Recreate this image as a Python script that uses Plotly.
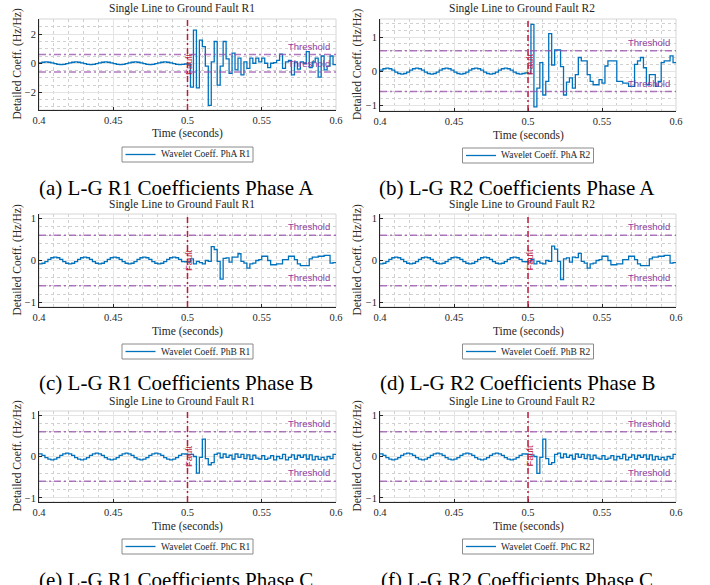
import plotly.graph_objects as go

# ---------------- data ----------------
time_s = [round(0.4 + 0.002 * i, 3) for i in range(101)]
fault_time = 0.5
threshold_hi = 0.6
threshold_lo = -0.6

# pre-fault (0.400 .. 0.498 s), 50 samples
pre_phase_A = [0.03, 0.07, 0.09, 0.07, 0.03, -0.03, -0.07, -0.09, -0.07, -0.03,
               0.03, 0.07, 0.09, 0.07, 0.03, -0.03, -0.07, -0.09, -0.07, -0.03,
               0.03, 0.07, 0.09, 0.07, 0.03, -0.03, -0.07, -0.09, -0.07, -0.03,
               0.03, 0.07, 0.09, 0.07, 0.03, -0.03, -0.07, -0.09, -0.07, -0.03,
               0.03, 0.07, 0.09, 0.07, 0.03, -0.03, -0.07, -0.09, -0.07, -0.05]
pre_phase_B = [-0.08, -0.065, -0.025, 0.025, 0.065, 0.08, 0.065, 0.025, -0.025, -0.065,
               -0.08, -0.065, -0.025, 0.025, 0.065, 0.08, 0.065, 0.025, -0.025, -0.065,
               -0.08, -0.065, -0.025, 0.025, 0.065, 0.08, 0.065, 0.025, -0.025, -0.065,
               -0.08, -0.065, -0.025, 0.025, 0.065, 0.08, 0.065, 0.025, -0.025, -0.065,
               -0.08, -0.065, -0.025, 0.025, 0.065, 0.08, 0.065, 0.025, -0.025, -0.03]
pre_phase_C = [0.065, 0.025, -0.025, -0.065, -0.08, -0.065, -0.025, 0.025, 0.065, 0.08,
               0.065, 0.025, -0.025, -0.065, -0.08, -0.065, -0.025, 0.025, 0.065, 0.08,
               0.065, 0.025, -0.025, -0.065, -0.08, -0.065, -0.025, 0.025, 0.065, 0.08,
               0.065, 0.025, -0.025, -0.065, -0.08, -0.065, -0.025, 0.025, 0.065, 0.08,
               0.065, 0.025, -0.025, -0.065, -0.08, -0.065, -0.025, 0.025, 0.065, 0.06]

# post-fault (0.500 .. 0.600 s), 51 samples
post_A_R1 = [-0.05, -1.65, 2.28, -1.7, 1.6, 1.15, -0.2, -2.9, 0.1, 1.5,
             -1.5, -0.2, 1.5, 0.3, -0.7, 0.7, -0.45, 0.35, -0.8, 0.1,
             -0.35, 0.35, 0.0, 0.35, 0.1, 0.35, 0.0, -0.3, 0.0, 0.05,
             0.2, 0.62, -0.35, 0.1, 0.2, -0.8, 0.1, -0.4, 0.1, 0.0,
             0.8, -0.3, 0.1, 0.35, -0.95, 0.5, -0.45, -0.2, 0.5, -0.1,
             -0.1]
post_A_R2 = [-0.07, 1.37, -1.05, -0.5, 0.25, -0.7, -0.3, 1.1, 0.18, 0.62,
             0.62, 0.13, -0.7, -0.32, -0.2, -0.5, -0.1, 0.4, 0.3, 0.3,
             -0.1, -0.3, -0.4, -0.4, -0.25, -0.35, 0.15, 0.3, 0.3, 0.3,
             -0.3, -0.3, -0.35, -0.35, -0.45, -0.45, 0.2, 0.3, 0.4, 0.1,
             -0.4, -0.1, -0.1, -0.45, -0.3, 0.25, 0.3, 0.3, 0.45, 0.25,
             0.25]
post_B_R1 = [-0.04, 0.04, -0.08, -0.02, -0.05, -0.08, 0.0, -0.02, 0.33, 0.26,
             -0.02, -0.44, 0.05, 0.06, -0.04, 0.08, 0.08, 0.16, -0.02, -0.06,
             -0.18, -0.08, -0.06, 0.0, 0.02, 0.1, 0.1, 0.0, -0.1, -0.1,
             -0.08, -0.08, 0.02, 0.02, 0.1, 0.1, 0.02, -0.08, -0.12, -0.12,
             -0.12, 0.04, 0.08, 0.08, 0.1, 0.1, 0.12, 0.12, -0.06, -0.05,
             -0.05]
post_B_R2 = [-0.04, 0.03, -0.08, -0.02, -0.06, -0.08, 0.0, -0.02, 0.34, 0.27,
             -0.02, -0.45, 0.04, 0.06, -0.04, 0.08, 0.07, 0.17, -0.02, -0.06,
             -0.18, -0.08, -0.06, 0.0, 0.02, 0.1, 0.1, 0.0, -0.1, -0.1,
             -0.08, -0.08, 0.02, 0.02, 0.1, 0.1, 0.02, -0.08, -0.12, -0.12,
             -0.12, 0.04, 0.08, 0.08, 0.1, 0.1, 0.12, 0.12, -0.06, -0.05,
             -0.05]
post_C_R1 = [0.05, 0.05, 0.0, -0.4, -0.02, 0.42, -0.05, -0.2, -0.15, 0.05,
             0.08, -0.03, 0.06, -0.02, 0.03, -0.06, 0.06, -0.02, 0.05, -0.05,
             0.04, -0.07, 0.03, -0.04, -0.06, 0.02, -0.07, -0.04, 0.02, -0.08,
             0.0, -0.05, 0.05, -0.08, -0.02, 0.04, -0.06, 0.03, -0.02, 0.04,
             -0.06, 0.04, -0.08, 0.0, -0.07, -0.02, -0.08, 0.0, -0.05, 0.05,
             0.05]
post_C_R2 = [0.05, 0.04, 0.0, -0.41, -0.02, 0.42, -0.05, -0.19, -0.15, 0.05,
             0.08, -0.03, 0.06, -0.02, 0.03, -0.06, 0.06, -0.02, 0.05, -0.05,
             0.04, -0.07, 0.03, -0.04, -0.06, 0.02, -0.07, -0.04, 0.02, -0.08,
             0.0, -0.05, 0.05, -0.08, -0.02, 0.04, -0.06, 0.03, -0.02, 0.04,
             -0.06, 0.04, -0.08, 0.0, -0.07, -0.02, -0.08, 0.0, -0.05, 0.05,
             0.05]

series_names = ["Wavelet Coeff. PhA R1", "Wavelet Coeff. PhA R2",
                "Wavelet Coeff. PhB R1", "Wavelet Coeff. PhB R2",
                "Wavelet Coeff. PhC R1", "Wavelet Coeff. PhC R2"]
titles = ["Single Line to Ground Fault R1", "Single Line to Ground Fault R2"] * 3
captions = ["(a) L-G R1 Coefficients Phase A", "(b) L-G R2 Coefficients Phase A",
            "(c) L-G R1 Coefficients Phase B", "(d) L-G R2 Coefficients Phase B",
            "(e) L-G R1 Coefficients Phase C", "(f) L-G R2 Coefficients Phase C"]
series_values = [pre_phase_A + post_A_R1, pre_phase_A + post_A_R2,
                 pre_phase_B + post_B_R1, pre_phase_B + post_B_R2,
                 pre_phase_C + post_C_R1, pre_phase_C + post_C_R2]

# ---------------- layout ----------------
W, H = 710, 585
def px(x): return x / W
def py(y): return 1 - y / H

# plot boxes in pixels: (left, top, right, bottom)
boxes = [(39, 19, 336, 110), (380, 19, 676, 111),
         (39, 214, 336, 307), (380, 214, 676, 307),
         (39, 411, 336, 502), (380, 411, 676, 502)]
yranges = [[-3.22, 3.05], [-1.17, 1.53], [-1.1, 1.1], [-1.1, 1.1], [-1.1, 1.1], [-1.1, 1.1]]
ydticks = [2, 1, 1, 1, 1, 1]
yminors = [0.5, 0.2, 0.2, 0.2, 0.2, 0.2]
caption_y = [188, 188, 383, 383, 580, 580]
caption_x = [176, 517, 176, 517, 176, 517]
ylabel_x = [17, 357, 17, 357, 17, 357]

SERIF = "Liberation Serif"
SANS = "Liberation Sans"
LINE_BLUE = "#0072BD"
TH_LINE = "rgba(150,75,170,0.75)"
TH_TEXT = "#8E3C9E"
FAULT = "#C0183A"
AX = "#262626"

fig = go.Figure()
layout = dict(width=W, height=H, margin=dict(l=0, r=0, t=0, b=0, autoexpand=False),
              paper_bgcolor="white", plot_bgcolor="white", showlegend=False)
shapes, annotations = [], []

for i in range(6):
    n = "" if i == 0 else str(i + 1)
    xa, ya = "x" + n, "y" + n
    L, T, R, B = boxes[i]
    fig.add_trace(go.Scatter(x=time_s, y=series_values[i], mode="lines",
                             line=dict(color=LINE_BLUE, width=1.3, shape="hv"),
                             name=series_names[i], xaxis=xa, yaxis=ya))
    layout["xaxis" + n] = dict(domain=[px(L), px(R)], anchor=ya, range=[0.4, 0.6],
                               automargin=False,
                               tickmode="linear", tick0=0.4, dtick=0.05,
                               ticks="inside", ticklen=3, tickcolor=AX,
                               showline=True, linecolor=AX, linewidth=1,
                               showgrid=True, gridcolor="#e4e4e4", zeroline=False,
                               tickfont=dict(family=SERIF, size=10.5, color=AX),
                               minor=dict(tick0=0.4, dtick=0.01, showgrid=True, griddash="dot",
                                          gridcolor="#d0d0d0", gridwidth=0.8))
    layout["yaxis" + n] = dict(domain=[py(B), py(T)], anchor=xa, range=yranges[i],
                               automargin=False,
                               tickmode="linear", tick0=0, dtick=ydticks[i],
                               ticks="inside", ticklen=3, tickcolor=AX,
                               showline=True, linecolor=AX, linewidth=1,
                               showgrid=True, gridcolor="#e4e4e4", zeroline=False,
                               tickfont=dict(family=SERIF, size=10.5, color=AX),
                               minor=dict(tick0=0, dtick=yminors[i], showgrid=True, griddash="dot",
                                          gridcolor="#d0d0d0", gridwidth=0.8))
    xd, yd = xa + " domain", ya + " domain"
    # light box frame
    shapes.append(dict(type="rect", xref=xd, yref=yd, x0=0, x1=1, y0=0, y1=1,
                       line=dict(color="#d6d6d6", width=1), layer="below"))
    for th in (threshold_hi, threshold_lo):
        shapes.append(dict(type="line", xref=xd, yref=ya, x0=0, x1=1, y0=th, y1=th,
                           line=dict(color=TH_LINE, width=1.5, dash="7px,3px,2px,3px")))
        annotations.append(dict(xref=xa, yref=ya, x=0.597, y=th, text="Threshold",
                                showarrow=False, xanchor="right", yanchor="bottom", yshift=1,
                                font=dict(family=SANS, size=9.5, color=TH_TEXT)))
    shapes.append(dict(type="line", xref=xa, yref=yd, x0=fault_time, x1=fault_time, y0=0, y1=1,
                       line=dict(color=FAULT, width=1.5, dash="6px,3px,2px,3px")))
    annotations.append(dict(xref=xa, yref=yd, x=fault_time, y=0.5, text="Fault", textangle=-90,
                            showarrow=False, xanchor="center", yanchor="middle", xshift=1,
                            font=dict(family=SANS, size=9.5, color=FAULT)))
    # title
    annotations.append(dict(xref="paper", yref="paper", x=px((L + R) / 2 - 6), y=py(T - 10),
                            text=titles[i], showarrow=False, xanchor="center", yanchor="middle",
                            font=dict(family=SERIF, size=11.5, color=AX)))
    # y label
    annotations.append(dict(xref="paper", yref="paper", x=px(ylabel_x[i]), y=py((T + B) / 2),
                            text="Detailed Coeff. (Hz/Hz)", textangle=-90, showarrow=False,
                            xanchor="center", yanchor="middle",
                            font=dict(family=SERIF, size=11.5, color=AX)))
    # x label
    annotations.append(dict(xref="paper", yref="paper", x=px((L + R) / 2), y=py(B + 24),
                            text="Time (seconds)", showarrow=False,
                            xanchor="center", yanchor="middle",
                            font=dict(family=SERIF, size=11.5, color=AX)))
    # legend box (compact, like the reference)
    cx = (L + R) / 2
    lt, lb = B + 37, B + 52
    shapes.append(dict(type="rect", xref="paper", yref="paper",
                       x0=px(cx - 65.5), x1=px(cx + 65.5), y0=py(lb), y1=py(lt),
                       line=dict(color="#8a8a8a", width=1), fillcolor="white"))
    shapes.append(dict(type="line", xref="paper", yref="paper",
                       x0=px(cx - 62), x1=px(cx - 32), y0=py((lt + lb) / 2), y1=py((lt + lb) / 2),
                       line=dict(color=LINE_BLUE, width=1.3)))
    annotations.append(dict(xref="paper", yref="paper", x=px(cx - 29), y=py((lt + lb) / 2),
                            text=series_names[i], showarrow=False,
                            xanchor="left", yanchor="middle",
                            font=dict(family=SERIF, size=9.5, color=AX)))
    # caption
    annotations.append(dict(xref="paper", yref="paper", x=px(caption_x[i]), y=py(caption_y[i]),
                            text=captions[i], showarrow=False,
                            xanchor="center", yanchor="middle",
                            font=dict(family=SERIF, size=21, color="black")))

layout["shapes"] = shapes
layout["annotations"] = annotations
fig.update_layout(**layout)
fig.write_html("out.html")
